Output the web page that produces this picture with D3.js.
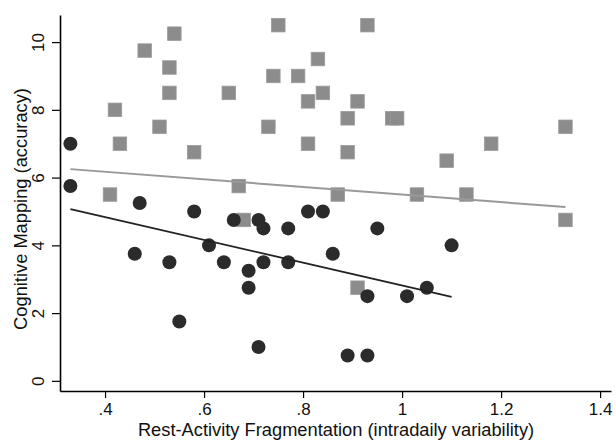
<!DOCTYPE html>
<html>
<head>
<meta charset="utf-8">
<script src="https://cdn.jsdelivr.net/npm/d3@7"></script>
<style>
  body { margin: 0; background: #fff; }
  text { font-family: "Liberation Sans", Arial, sans-serif; }
</style>
</head>
<body>
<svg width="616" height="441"></svg>
<script>
// group 1 (grey squares)
var squareX = [0.41, 0.42, 0.43, 0.48, 0.51, 0.53, 0.53, 0.54, 0.58, 0.65, 0.67, 0.68,
  0.73, 0.74, 0.75, 0.79, 0.81, 0.81, 0.83, 0.84, 0.87, 0.89, 0.89, 0.91, 0.91, 0.93,
  0.98, 0.99, 1.03, 1.09, 1.13, 1.18, 1.33, 1.33];
var squareY = [5.5, 8.0, 7.0, 9.75, 7.5, 9.25, 8.5, 10.25, 6.75, 8.5, 5.75, 4.75,
  7.5, 9.0, 10.5, 9.0, 8.25, 7.0, 9.5, 8.5, 5.5, 7.75, 6.75, 8.25, 2.75, 10.5,
  7.75, 7.75, 5.5, 6.5, 5.5, 7.0, 7.5, 4.75];

// group 2 (dark circles)
var circleX = [0.33, 0.33, 0.46, 0.47, 0.53, 0.55, 0.58, 0.61, 0.64, 0.66, 0.69, 0.69,
  0.71, 0.71, 0.72, 0.72, 0.77, 0.77, 0.81, 0.84, 0.86, 0.89, 0.93, 0.93, 0.95, 1.01,
  1.05, 1.10];
var circleY = [7.0, 5.75, 3.75, 5.25, 3.5, 1.75, 5.0, 4.0, 3.5, 4.75, 3.25, 2.75,
  4.75, 1.0, 4.5, 3.5, 4.5, 3.5, 5.0, 5.0, 3.75, 0.75, 0.75, 2.5, 4.5, 2.5,
  2.75, 4.0];

// linear fits [x0, x1], [y0, y1]
var squareFitX = [0.33, 1.33];
var squareFitY = [6.25, 5.13];
var circleFitX = [0.33, 1.10];
var circleFitY = [5.07, 2.48];

var xTicks = [0.4, 0.6, 0.8, 1.0, 1.2, 1.4];
var xTickLabels = [".4", ".6", ".8", "1", "1.2", "1.4"];
var yTicks = [0, 2, 4, 6, 8, 10];

var svg = d3.select("svg");

var x = d3.scaleLinear().domain([0.309, 1.422]).range([60, 611]);
var y = d3.scaleLinear().domain([-0.3, 10.8]).range([391, 15]);

var xAxis = d3.axisBottom(x)
  .tickValues(xTicks)
  .tickFormat((d, i) => xTickLabels[i])
  .tickSizeInner(7)
  .tickSizeOuter(0)
  .tickPadding(5);

var yAxis = d3.axisLeft(y)
  .tickValues(yTicks)
  .tickSizeInner(8)
  .tickSizeOuter(0);

var gx = svg.append("g")
  .attr("transform", "translate(0,391)")
  .call(xAxis);
gx.select(".domain").attr("stroke", "#000").attr("stroke-width", 1.6);
gx.selectAll(".tick line").attr("stroke", "#000").attr("stroke-width", 1.2);
gx.selectAll(".tick text")
  .attr("font-size", 17)
  .attr("fill", "#111")
  .attr("font-family", "Liberation Sans, Arial, sans-serif");

var gy = svg.append("g")
  .attr("transform", "translate(60,0)")
  .call(yAxis);
gy.select(".domain").attr("stroke", "#000").attr("stroke-width", 1.6);
gy.selectAll(".tick line").attr("stroke", "#000").attr("stroke-width", 1.2);
gy.selectAll(".tick text")
  .attr("font-size", 17)
  .attr("fill", "#111")
  .attr("font-family", "Liberation Sans, Arial, sans-serif")
  .attr("text-anchor", "middle")
  .attr("x", null)
  .attr("dy", null)
  .attr("transform", "translate(-16,0) rotate(-90)");

svg.append("text")
  .attr("x", 336)
  .attr("y", 436)
  .attr("text-anchor", "middle")
  .attr("font-size", 18.3)
  .attr("fill", "#111")
  .text("Rest-Activity Fragmentation (intradaily variability)");

svg.append("text")
  .attr("transform", "translate(27,209) rotate(-90)")
  .attr("text-anchor", "middle")
  .attr("font-size", 18.3)
  .attr("fill", "#111")
  .text("Cognitive Mapping (accuracy)");

var line = d3.line()
  .x(d => x(d[0]))
  .y(d => y(d[1]));

// squares
var sq = 13.5;
svg.append("g")
  .selectAll("rect")
  .data(d3.zip(squareX, squareY))
  .join("rect")
  .attr("x", d => x(d[0]) - sq / 2)
  .attr("y", d => y(d[1]) - sq / 2)
  .attr("width", sq)
  .attr("height", sq)
  .attr("fill", "#8c8c8c")
  .attr("stroke", "#9a9a9a")
  .attr("stroke-width", 0.8);

// circles
svg.append("g")
  .selectAll("circle")
  .data(d3.zip(circleX, circleY))
  .join("circle")
  .attr("cx", d => x(d[0]))
  .attr("cy", d => y(d[1]))
  .attr("r", 7)
  .attr("fill", "#2b2b2b");

svg.append("path")
  .datum(d3.zip(squareFitX, squareFitY))
  .attr("d", line)
  .attr("fill", "none")
  .attr("stroke", "#999")
  .attr("stroke-width", 2);

svg.append("path")
  .datum(d3.zip(circleFitX, circleFitY))
  .attr("d", line)
  .attr("fill", "none")
  .attr("stroke", "#222")
  .attr("stroke-width", 1.8);
</script>
</body>
</html>
